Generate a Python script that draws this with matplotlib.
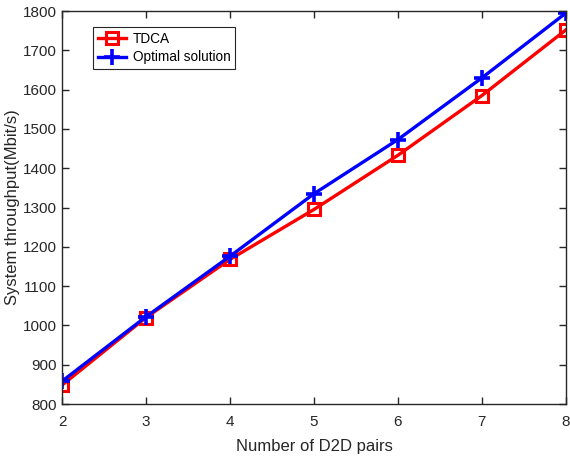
import matplotlib
matplotlib.use("Agg")
import matplotlib.pyplot as plt

plt.rcParams['font.family'] = ['Liberation Sans', 'DejaVu Sans']

pairs = [2, 3, 4, 5, 6, 7, 8]
tdca = [848, 1020, 1168, 1295, 1433, 1585, 1752]
optimal = [858, 1022, 1176, 1335, 1473, 1630, 1795]

fig = plt.figure(figsize=(5.7, 4.58), dpi=100)
ax = fig.add_axes([0.1088, 0.1179, 0.884, 0.858])

ax.plot(pairs, tdca, color='red', lw=2.4, marker='s', ms=8, mfc='none', mew=2.2,
        label='TDCA')
ax.plot(pairs, optimal, color='blue', lw=2.4, marker='+', ms=12, mew=2.6,
        label='Optimal solution')

ax.set_xlim(2, 8)
ax.set_ylim(800, 1800)
ax.set_xticks(pairs)
ax.set_yticks(range(800, 1801, 100))
ax.tick_params(direction='in', top=True, right=True, labelsize=11, colors='#262626',
               length=5, width=1)
ax.tick_params(axis='x', pad=8)
for s in ax.spines.values():
    s.set_color('#262626')
    s.set_linewidth(1)

ax.set_xlabel('Number of D2D pairs', fontsize=12, color='#262626', labelpad=7)
ax.set_ylabel('System throughput(Mbit/s)', fontsize=12, color='#262626', labelpad=2)

leg = ax.legend(loc='upper left', bbox_to_anchor=(0.061, 0.96), fontsize=9.8,
                fancybox=False, framealpha=1, edgecolor='#262626',
                handlelength=2.1, handletextpad=0.5, borderpad=0.35,
                labelspacing=0.35, borderaxespad=0)
leg.get_frame().set_linewidth(0.8)

fig.savefig('out.png', dpi=100)
